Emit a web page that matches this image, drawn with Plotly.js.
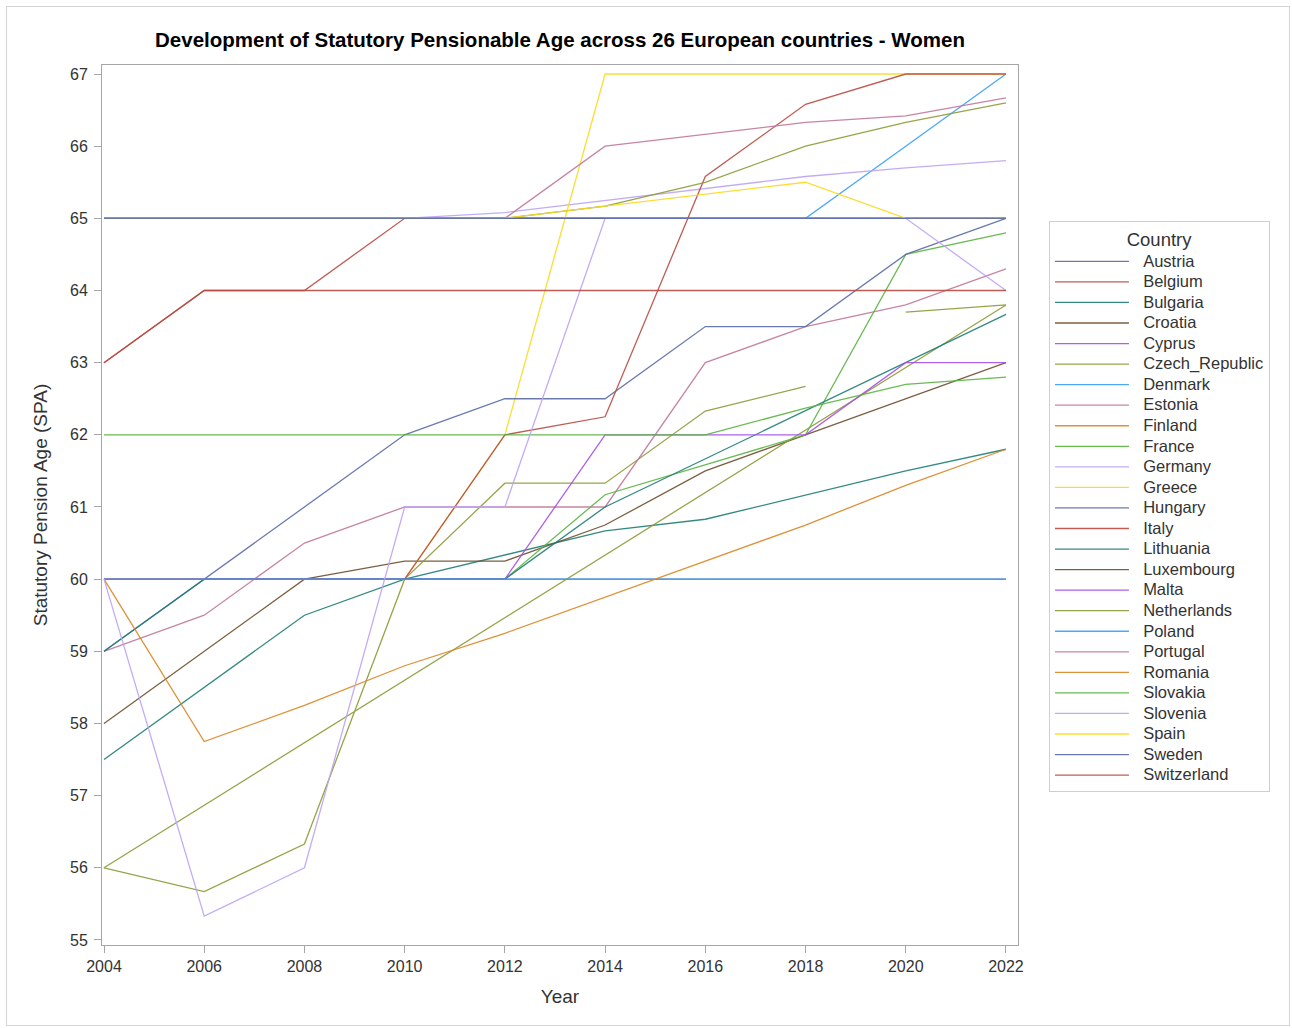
<!DOCTYPE html>
<html>
<head>
<meta charset="utf-8">
<script src="https://cdn.plot.ly/plotly-3.0.1.min.js"></script>
<style>
  html, body { margin: 0; padding: 0; background: #fff; }
  #frame { position: absolute; left: 6px; top: 6px; width: 1284px; height: 1020px; border: 1px solid #d4d4d4; box-sizing: border-box; }
  #chart { position: absolute; left: 0; top: 0; width: 1292px; height: 1028px; }
</style>
</head>
<body>
<div id="frame"></div>
<div id="chart"></div>
<script>
// ---- data ----
const years = [2004, 2006, 2008, 2010, 2012, 2014, 2016, 2018, 2020, 2022];

const austria     = [60, 60, 60, 60, 60, 60, 60, 60, 60, 60];
const belgium     = [63, 64, 64, 65, 65, 65, 65, 65, 65, 65];
const bulgaria    = [57.5, 58.5, 59.5, 60, 60.33, 60.67, 60.83, 61.17, 61.5, 61.8];
const croatia     = [58, 59, 60, 60.25, 60.25, 60.75, 61.5, 62, 62.5, 63];
const cyprus      = [65, 65, 65, 65, 65, 65, 65, 65, 65, 65];
// Czech_Republic: points in the data's own order (the series is drawn in this order)
const czechYears  = [2020, 2022, 2004, 2006, 2008, 2010, 2012, 2014, 2016, 2018];
const czech       = [63.7, 63.8, 56, 55.67, 56.33, 60, 61.33, 61.33, 62.33, 62.67];
const denmark     = [65, 65, 65, 65, 65, 65, 65, 65, 66, 67];
const estonia     = [59, 59.5, 60.5, 61, 61, 61, 63, 63.5, 63.8, 64.3];
const finland     = [65, 65, 65, 65, 65, 65, 65, 65, 65, 65];
const france      = [60, 60, 60, 60, 60, 61.17, 61.58, 62, 64.5, 64.8];
const germany     = [65, 65, 65, 65, 65.08, 65.25, 65.42, 65.58, 65.7, 65.8];
const greece      = [60, 60, 60, 60, 62, 67, 67, 67, 67, 67];
const hungary     = [59, 60, 61, 62, 62.5, 62.5, 63.5, 63.5, 64.5, 65];
const italy       = [60, 60, 60, 60, 62, 62.25, 65.58, 66.58, 67, 67];
const lithuania   = [59, 60, 60, 60, 60, 61, 61.67, 62.33, 63, 63.67];
const luxembourg  = [65, 65, 65, 65, 65, 65, 65, 65, 65, 65];
const malta       = [60, 60, 60, 60, 60, 62, 62, 62, 63, 63];
const netherlands = [65, 65, 65, 65, 65, 65.17, 65.5, 66, 66.33, 66.6];
const poland      = [60, 60, 60, 60, 60, 60, 60, 60, 60, 60];
const portugal    = [65, 65, 65, 65, 65, 66, 66.17, 66.33, 66.42, 66.67];
const romania     = [60, 57.75, 58.25, 58.8, 59.25, 59.75, 60.25, 60.75, 61.3, 61.8];
const slovakia    = [62, 62, 62, 62, 62, 62, 62, 62.37, 62.7, 62.8];
const slovenia    = [60, 55.33, 56, 61, 61, 65, 65, 65, 65, 64];
const spain       = [65, 65, 65, 65, 65, 65.17, 65.33, 65.5, 65, 65];
const sweden      = [65, 65, 65, 65, 65, 65, 65, 65, 65, 65];
const switzerland = [63, 64, 64, 64, 64, 64, 64, 64, 64, 64];

const xTicks = [2004, 2006, 2008, 2010, 2012, 2014, 2016, 2018, 2020, 2022];
const yTicks = [55, 56, 57, 58, 59, 60, 61, 62, 63, 64, 65, 66, 67];

// ---- style ----
const palette = ['#5A6BA8', '#B84A40', '#1E7D76', '#6E4E2C', '#A64FE6', '#8C9A35',
                 '#3A9FF7', '#C0789A', '#D98522', '#58B43E', '#BDA3F6', '#F9DA20'];

const series = [
  ['Austria', years, austria],
  ['Belgium', years, belgium],
  ['Bulgaria', years, bulgaria],
  ['Croatia', years, croatia],
  ['Cyprus', years, cyprus],
  ['Czech_Republic', czechYears, czech],
  ['Denmark', years, denmark],
  ['Estonia', years, estonia],
  ['Finland', years, finland],
  ['France', years, france],
  ['Germany', years, germany],
  ['Greece', years, greece],
  ['Hungary', years, hungary],
  ['Italy', years, italy],
  ['Lithuania', years, lithuania],
  ['Luxembourg', years, luxembourg],
  ['Malta', years, malta],
  ['Netherlands', years, netherlands],
  ['Poland', years, poland],
  ['Portugal', years, portugal],
  ['Romania', years, romania],
  ['Slovakia', years, slovakia],
  ['Slovenia', years, slovenia],
  ['Spain', years, spain],
  ['Sweden', years, sweden],
  ['Switzerland', years, switzerland]
];

const traces = series.map((s, i) => ({
  type: 'scatter',
  mode: 'lines',
  name: '<span style="font-size:16.5px">&nbsp;&nbsp;' + s[0] + '</span>',
  x: s[1],
  y: s[2],
  opacity: 0.9,
  line: { color: palette[i % 12], width: 1.3 },
  legendrank: i + 1,
  hoverinfo: 'x+y+name'
}));

const FONT = 'Liberation Sans, Arial, Helvetica, sans-serif';
const axisCommon = {
  showline: true, linecolor: '#a6a6a6', linewidth: 1, mirror: true,
  showgrid: false, zeroline: false,
  ticks: 'outside', ticklen: 7, tickcolor: '#a6a6a6', tickwidth: 1,
  tickfont: { family: FONT, size: 16, color: '#333333' }
};

const layout = {
  width: 1292, height: 1028,
  margin: { l: 102, r: 274, t: 65, b: 83, pad: 0 },
  paper_bgcolor: 'rgba(0,0,0,0)',
  plot_bgcolor: '#ffffff',
  font: { family: FONT, color: '#333333' },
  title: {
    text: '<b>Development of Statutory Pensionable Age across 26 European countries - Women</b>',
    font: { family: FONT, size: 20.5, color: '#000000' },
    xref: 'paper', x: 0.5, xanchor: 'center',
    yref: 'container', y: 1 - 40 / 1028, yanchor: 'middle'
  },
  xaxis: Object.assign({}, axisCommon, {
    range: [2003.96, 2022.24],
    tickmode: 'array', tickvals: xTicks, ticktext: xTicks.map(String),
    title: { text: 'Year', font: { family: FONT, size: 19, color: '#333333' }, standoff: 15 }
  }),
  yaxis: Object.assign({}, axisCommon, {
    range: [54.93, 67.125],
    tickmode: 'array', tickvals: yTicks, ticktext: yTicks.map(String),
    ticklabelstandoff: 3,
    title: { text: 'Statutory Pension Age (SPA)', font: { family: FONT, size: 19, color: '#333333' }, standoff: 17 }
  }),
  showlegend: true,
  legend: {
    x: 1.0338, y: 0.8227, xanchor: 'left', yanchor: 'top',
    bgcolor: '#ffffff', bordercolor: '#cfcfcf', borderwidth: 1,
    font: { family: FONT, size: 13.5, color: '#333333' },
    title: { text: 'Country', side: 'top center', font: { family: FONT, size: 18.5, color: '#333333' } },
    itemwidth: 74, tracegroupgap: 0, traceorder: 'normal'
  }
};

Plotly.newPlot('chart', traces, layout, { displayModeBar: false, staticPlot: true });
</script>
</body>
</html>
